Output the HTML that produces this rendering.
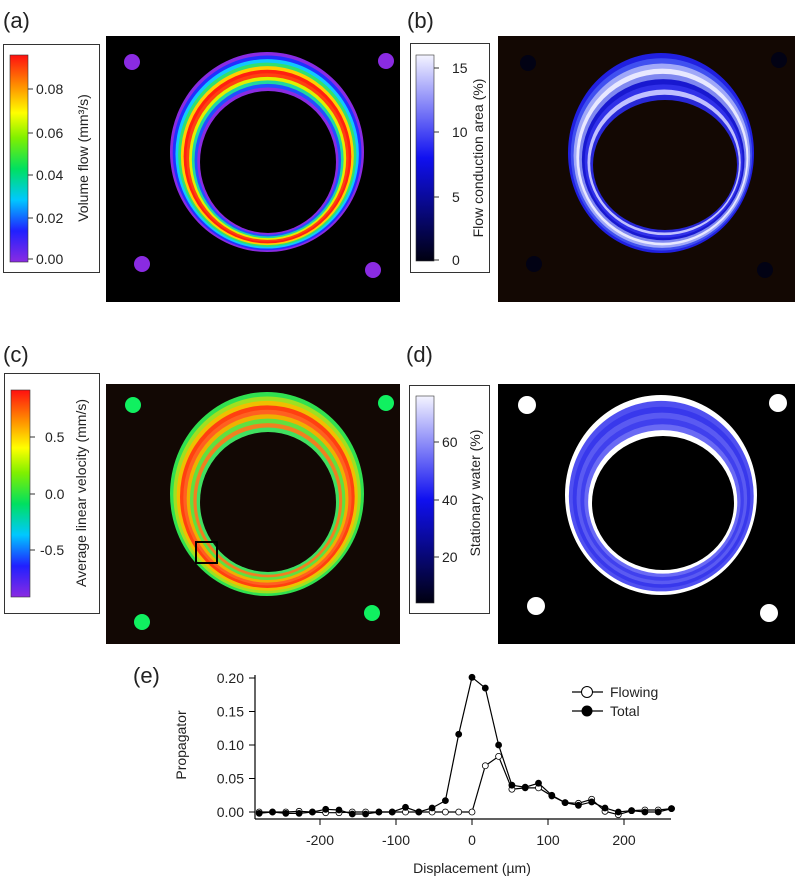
<!DOCTYPE html>
<html><head><meta charset="utf-8">
<style>
body{margin:0;background:#fff;font-family:"Liberation Sans",sans-serif;}
svg{display:block}
text{font-family:"Liberation Sans",sans-serif;fill:#222}
</style></head>
<body>
<svg id="fig" width="797" height="880" viewBox="0 0 797 880">
<defs>
<linearGradient id="rainbow" x1="0" y1="1" x2="0" y2="0">
<stop offset="0" stop-color="#8a2be2"/><stop offset="0.15" stop-color="#2020ff"/>
<stop offset="0.3" stop-color="#00c8ff"/><stop offset="0.45" stop-color="#00e060"/>
<stop offset="0.6" stop-color="#80f000"/><stop offset="0.72" stop-color="#ffff00"/>
<stop offset="0.85" stop-color="#ff9000"/><stop offset="1" stop-color="#ff1010"/>
</linearGradient>
<linearGradient id="blues" x1="0" y1="1" x2="0" y2="0">
<stop offset="0" stop-color="#000010"/><stop offset="0.5" stop-color="#1010f0"/>
<stop offset="1" stop-color="#f4f4ff"/>
</linearGradient>
</defs>

<!-- panel labels -->
<text x="3" y="28" font-size="22">(a)</text>
<text x="407" y="28" font-size="22">(b)</text>
<text x="3" y="362" font-size="22">(c)</text>
<text x="406" y="362" font-size="22">(d)</text>
<text x="133" y="683" font-size="22">(e)</text>

<!-- colorbars -->
<g>
<rect x="3.5" y="44.5" width="96" height="228" fill="#fff" stroke="#333"/>
<rect x="10" y="55" width="18" height="207" fill="url(#rainbow)" stroke="#333" stroke-width="0.6"/>
<g font-size="14" stroke="#333">
<line x1="28" y1="89" x2="33" y2="89"/><line x1="28" y1="133" x2="33" y2="133"/><line x1="28" y1="175" x2="33" y2="175"/><line x1="28" y1="218" x2="33" y2="218"/><line x1="28" y1="259" x2="33" y2="259"/>
</g>
<g font-size="14"><text x="36" y="94">0.08</text><text x="36" y="138">0.06</text><text x="36" y="180">0.04</text><text x="36" y="223">0.02</text><text x="36" y="264">0.00</text></g>
<text transform="translate(88,158) rotate(-90)" text-anchor="middle" font-size="14">Volume flow (mm³/s)</text>
</g>
<g>
<rect x="410.5" y="43.5" width="79" height="229" fill="#fff" stroke="#333"/>
<rect x="416" y="55" width="18" height="206" fill="url(#blues)" stroke="#333" stroke-width="0.6"/>
<g stroke="#333"><line x1="434" y1="68" x2="439" y2="68"/><line x1="434" y1="132" x2="439" y2="132"/><line x1="434" y1="197" x2="439" y2="197"/><line x1="434" y1="260" x2="439" y2="260"/></g>
<g font-size="14"><text x="452" y="73">15</text><text x="452" y="137">10</text><text x="452" y="202">5</text><text x="452" y="265">0</text></g>
<text transform="translate(483,158) rotate(-90)" text-anchor="middle" font-size="14">Flow conduction area (%)</text>
</g>
<g>
<rect x="4.5" y="373.5" width="95" height="240" fill="#fff" stroke="#333"/>
<rect x="11" y="390" width="19" height="207" fill="url(#rainbow)" stroke="#333" stroke-width="0.6"/>
<g stroke="#333"><line x1="30" y1="437" x2="35" y2="437"/><line x1="30" y1="494" x2="35" y2="494"/><line x1="30" y1="550" x2="35" y2="550"/></g>
<g font-size="14"><text x="45" y="442">0.5</text><text x="45" y="499">0.0</text><text x="40" y="555">-0.5</text></g>
<text transform="translate(86,493) rotate(-90)" text-anchor="middle" font-size="14">Average linear velocity (mm/s)</text>
</g>
<g>
<rect x="409.5" y="385.5" width="80" height="228" fill="#fff" stroke="#333"/>
<rect x="416" y="396" width="18" height="207" fill="url(#blues)" stroke="#333" stroke-width="0.6"/>
<g stroke="#333"><line x1="434" y1="442" x2="439" y2="442"/><line x1="434" y1="500" x2="439" y2="500"/><line x1="434" y1="557" x2="439" y2="557"/></g>
<g font-size="14"><text x="442" y="447">60</text><text x="442" y="505">40</text><text x="442" y="562">20</text></g>
<text transform="translate(480,493) rotate(-90)" text-anchor="middle" font-size="14">Stationary water (%)</text>
</g>

<!-- image panels -->
<rect x="106" y="36" width="294" height="266" fill="#000"/>
<rect x="498" y="36" width="297" height="266" fill="#130803"/>
<rect x="106" y="384" width="294" height="260" fill="#120804"/>
<rect x="498" y="384" width="297" height="260" fill="#000"/>
<g id="rings"></g>
<rect x="196" y="542" width="21" height="21" fill="none" stroke="#000" stroke-width="2"/>

<!-- chart e -->
<g id="chart">
<text transform="translate(186,745) rotate(-90)" text-anchor="middle" font-size="14">Propagator</text>
<text x="472" y="873" text-anchor="middle" font-size="14">Displacement (µm)</text>
<g>
<line x1="572" y1="692" x2="603" y2="692" stroke="#000" stroke-width="1.2"/><circle cx="587" cy="692" r="5.5" fill="#fff" stroke="#000"/>
<text x="610" y="697" font-size="14">Flowing</text>
<line x1="572" y1="711" x2="603" y2="711" stroke="#000" stroke-width="1.2"/><circle cx="587" cy="711" r="5.5" fill="#000"/>
<text x="610" y="716" font-size="14">Total</text>
</g>
</g>
</svg>
<script>
const displacement=[-280,-262.5,-245,-227.5,-210,-192.5,-175,-157.5,-140,-122.5,-105,-87.5,-70,-52.5,-35,-17.5,0,17.5,35,52.5,70,87.5,105,122.5,140,157.5,175,192.5,210,227.5,245,262.5];
const totalValues=[-0.002,0,-0.002,-0.002,0,0.004,0.003,-0.003,-0.003,0,0,0.007,0,0.006,0.017,0.116,0.201,0.185,0.1,0.04,0.037,0.043,0.025,0.014,0.01,0.015,0.006,0,0.002,0,0,0.005];
const flowingValues=[0,0,0,0.001,0,-0.001,-0.001,0,0,0,0,0,0,0,0,0,0,0.069,0.083,0.034,0.036,0.036,0.024,0.014,0.013,0.019,0.001,-0.004,0.002,0.003,0.003,0.005];
const yTicks=[0,0.05,0.1,0.15,0.2];
const yTickLabels=["0.00","0.05","0.10","0.15","0.20"];
const xTicks=[-200,-100,0,100,200];
const xTickLabels=["-200","-100","0","100","200"];

const NS="http://www.w3.org/2000/svg";
function mk(tag,attrs,parent){const e=document.createElementNS(NS,tag);for(const k in attrs)e.setAttribute(k,attrs[k]);parent.appendChild(e);return e;}
const xS=v=>472+0.76*v;
const yS=v=>812-670*v;
const chart=document.getElementById('chart');
let ya=mk('line',{x1:255,y1:675,x2:255,y2:819,stroke:'#000','stroke-width':1.2},chart);


let xa=mk('line',{x1:255,y1:819,x2:671,y2:819,stroke:'#000','stroke-width':1.2},chart);


yTicks.forEach((t,i)=>{
  mk('line',{x1:249,y1:yS(t),x2:255,y2:yS(t),stroke:'#000'},chart);
  const tx=mk('text',{x:244,y:yS(t)+5,'text-anchor':'end','font-size':14},chart);
  tx.textContent=yTickLabels[i];
  
  
});
xTicks.forEach((t,i)=>{
  mk('line',{x1:xS(t),y1:819,x2:xS(t),y2:825,stroke:'#000'},chart);
  const tx=mk('text',{x:xS(t),y:845,'text-anchor':'middle','font-size':14},chart);
  tx.textContent=xTickLabels[i];
  
  
});
function series(vals,fill,name){
  const pts=displacement.map((d,i)=>xS(d)+','+yS(vals[i])).join(' ');
  const pl=mk('polyline',{points:pts,fill:'none',stroke:'#000','stroke-width':1.2},chart);
  
  
  displacement.forEach((d,i)=>{
    const c=mk('circle',{cx:xS(d),cy:yS(vals[i]),r:3,fill:fill,stroke:'#000','stroke-width':0.8},chart);
    
    
  });
}
series(flowingValues,'#fff','flowing');
series(totalValues,'#000','total');

// ring images
const rings=document.getElementById('rings');
function ring(o,inn,colors,name){
  const g=mk('g',{},rings);
  
  
  const n=colors.length;
  for(let k=0;k<n;k++){
    const f=k/n;
    mk('ellipse',{cx:o[0]+(inn[0]-o[0])*f,cy:o[1]+(inn[1]-o[1])*f,rx:o[2]+(inn[2]-o[2])*f,ry:o[3]+(inn[3]-o[3])*f,fill:colors[k]},g);
  }
  mk('ellipse',{cx:inn[0],cy:inn[1],rx:inn[2],ry:inn[3],fill:inn[4]},g);
}
ring([267,152,97,100],[268,162,68,71,'#000'],['#8a2be2','#2030ff','#10c8ff','#30e070','#ffd000','#ff2010','#ff4010','#e0f000','#20d8a0','#2050ff','#8a2be2'],'flow-ring-a');
ring([661,153,93,100],[665,165,72,65,'#130803'],['#2020e0','#4050f0','#a0a8f8','#e8e8ff','#8088f0','#1818d0','#3030e8','#c0c0ff','#2828d8'],'conduction-ring-b');
ring([267,494,97,102],[268,502,68,70,'#120804'],['#30e050','#a0e020','#f0c000','#ff4010','#ff6020','#f0b000','#60e040','#f08020','#40e060'],'velocity-ring-c');
ring([661,495,96,100],[663,503,71,67,'#000'],['#ffffff','#5050f0','#3838ec','#5a5af2','#4040ee','#6a6af4','#ffffff'],'stationary-ring-d');

const dots=[
 [132,62,8,'#8a2be2'],[386,61,8,'#8a2be2'],[142,264,8,'#8a2be2'],[373,270,8,'#8a2be2'],
 [528,63,8,'#020214'],[779,60,8,'#020214'],[534,264,8,'#020214'],[765,270,8,'#020214'],
 [133,405,8,'#10f060'],[386,403,8,'#10f060'],[142,622,8,'#10f060'],[372,613,8,'#10f060'],
 [527,405,9,'#fff'],[778,403,9,'#fff'],[536,606,9,'#fff'],[769,613,9,'#fff']];
dots.forEach(d=>{
  const c=mk('circle',{cx:d[0],cy:d[1],r:d[2],fill:d[3]},rings);
  
  
});
</script>
</body></html>
